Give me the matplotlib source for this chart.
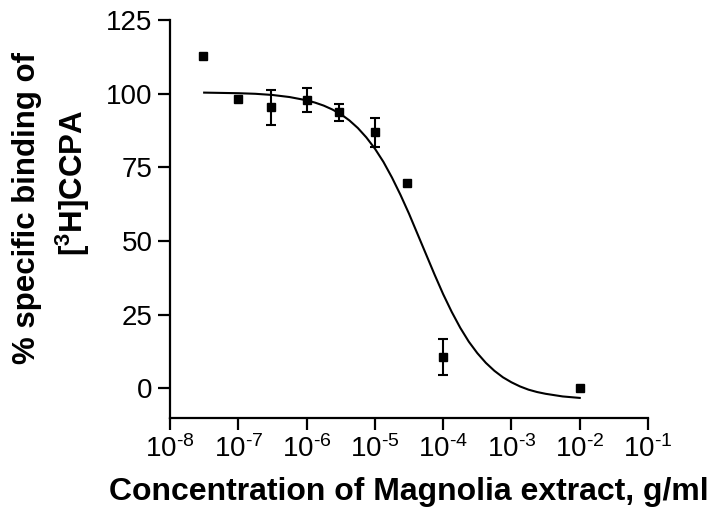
import numpy as np
import matplotlib
matplotlib.use("Agg")
import matplotlib.pyplot as plt
from matplotlib.ticker import FuncFormatter, NullLocator

plt.rcParams['font.family'] = ['Liberation Sans', 'DejaVu Sans']
plt.rcParams['mathtext.fontset'] = 'custom'
plt.rcParams['mathtext.rm'] = 'Liberation Sans'
plt.rcParams['mathtext.bf'] = 'Liberation Sans:bold'
plt.rcParams['mathtext.default'] = 'regular'
plt.rcParams['axes.unicode_minus'] = False

# measured points (g/ml, % specific binding, SEM; 0 = no bar drawn)
conc = [3e-8, 1e-7, 3e-7, 1e-6, 3e-6, 1e-5, 3e-5, 1e-4, 1e-2]
binding = [112.8, 98.2, 95.4, 97.9, 93.7, 86.9, 69.9, 10.7, 0.0]
sem = [0, 0, 6.0, 4.0, 2.8, 4.8, 0, 6.1, 0]

# fitted curve (log10 conc, % binding)
curve_logx = [-7.5, -7.25, -7.0, -6.75, -6.5, -6.25, -6.0, -5.875, -5.75,
              -5.625, -5.5, -5.375, -5.25, -5.125, -5.0, -4.875, -4.75,
              -4.625, -4.5, -4.375, -4.25, -4.125, -4.0, -3.875, -3.75,
              -3.625, -3.5, -3.375, -3.25, -3.125, -3.0, -2.875, -2.75,
              -2.625, -2.5, -2.25, -2.0]
curve_y = [100.4, 100.3, 100.2, 100.0, 99.6, 98.9, 97.8, 97.0, 96.0,
           94.7, 93.1, 91.0, 88.4, 85.2, 81.4, 76.9, 71.6,
           65.7, 59.3, 52.4, 45.5, 38.6, 32.0, 26.0, 20.6,
           15.9, 12.0, 8.7, 6.0, 3.8, 2.1, 0.7, -0.4,
           -1.2, -1.8, -2.7, -3.2]

xticks = [1e-8, 1e-7, 1e-6, 1e-5, 1e-4, 1e-3, 1e-2, 1e-1]
yticks = [0, 25, 50, 75, 100, 125]

fig = plt.figure(figsize=(7.21, 5.16), dpi=100)
ax = fig.add_axes([0.2358, 0.190, 0.663, 0.771])

ax.plot(10 ** np.array(curve_logx), curve_y, color='black', lw=1.5)

c = np.array(conc)
b = np.array(binding)
e = np.array(sem)
has_bar = e > 0
ax.errorbar(c[has_bar], b[has_bar], yerr=e[has_bar], fmt='none',
            ecolor='black', elinewidth=1.5, capsize=3.3, capthick=1.5)
ax.plot(c, b, 's', color='black', ms=5.3)

ax.set_xscale('log')
ax.set_xlim(1e-8, 1e-1)
ax.set_ylim(-10, 125)
ax.set_xticks(xticks)
ax.xaxis.set_minor_locator(NullLocator())
ax.xaxis.set_major_formatter(FuncFormatter(
    lambda v, pos: '10$^{\\text{-}%d}$' % round(-np.log10(v))))
ax.set_yticks(yticks)

for s in ['top', 'right']:
    ax.spines[s].set_visible(False)
for s in ['left', 'bottom']:
    ax.spines[s].set_linewidth(1.6)
ax.tick_params(axis='both', direction='out', length=8.5, width=1.6,
               labelsize=20, pad=4)

fig.text(0.567, 0.031, 'Concentration of Magnolia extract, g/ml',
         fontsize=23, fontweight='bold', ha='center', va='baseline')
fig.text(0.038, 0.597, '% specific binding of', fontsize=22.5,
         fontweight='bold', rotation=90, ha='center', va='center')
fig.text(0.1006, 0.645, '[$\\mathbf{^3}$H]CCPA', fontsize=22.5,
         fontweight='bold', rotation=90, ha='center', va='center')

fig.savefig('out.png', dpi=100)
